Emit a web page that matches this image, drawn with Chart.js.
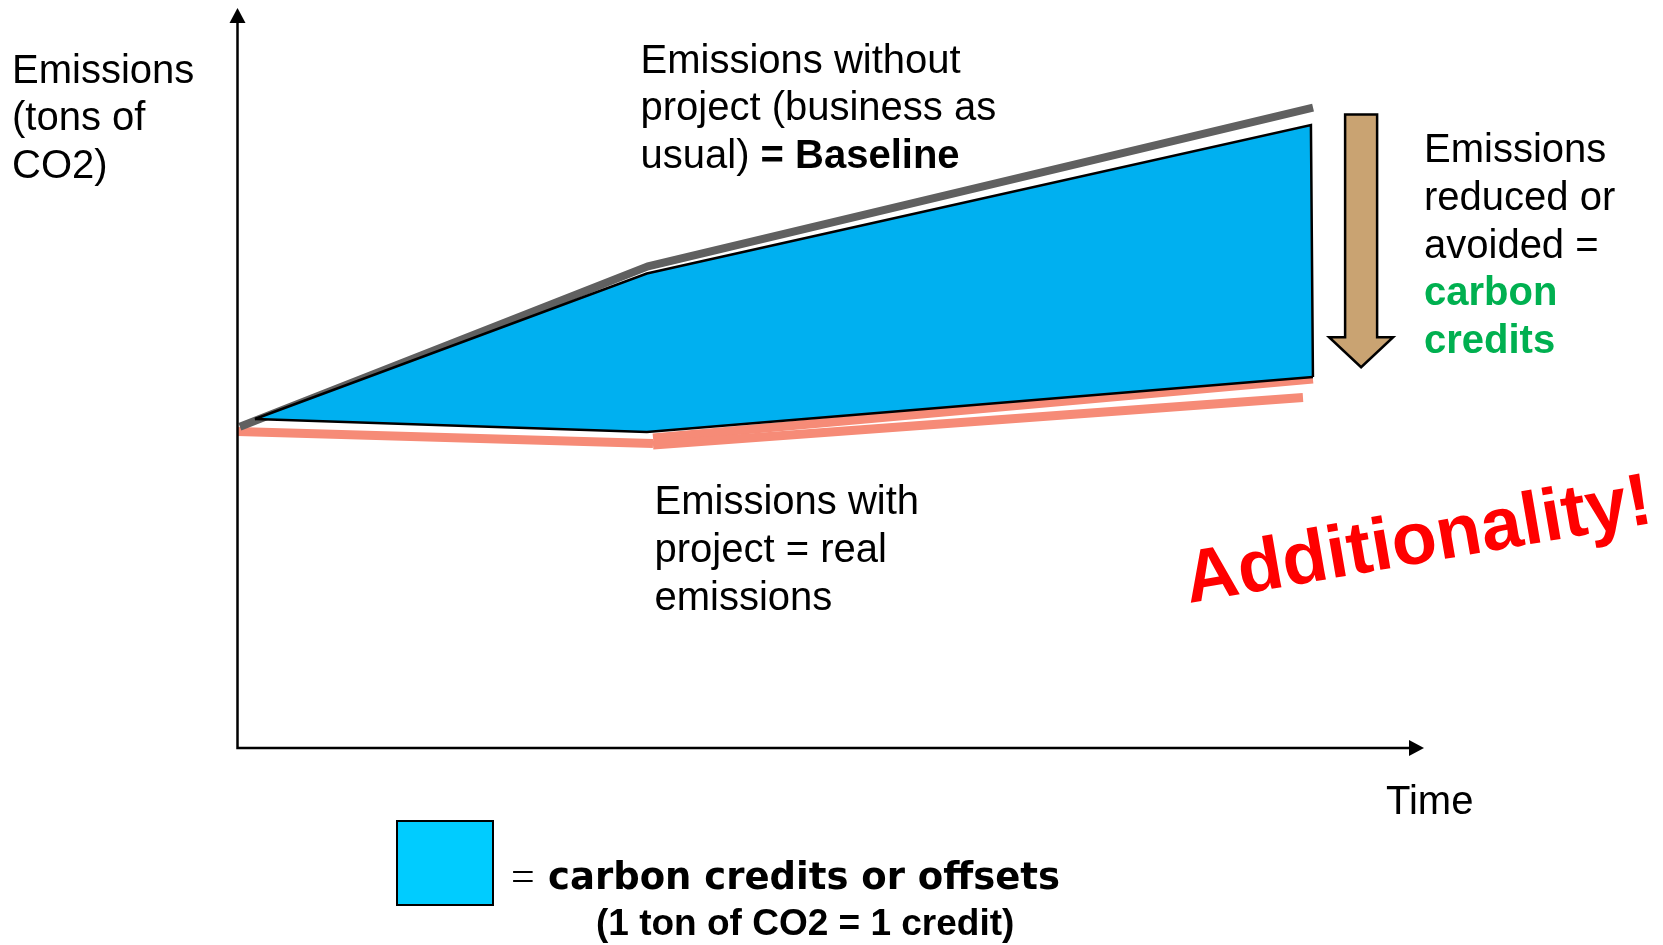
<!DOCTYPE html>
<html>
<head>
<meta charset="utf-8">
<title>Carbon credits - additionality</title>
<script src="https://cdn.jsdelivr.net/npm/chart.js@4.4.1/dist/chart.umd.min.js"></script>
<style>
    html, body { margin: 0; padding: 0; background: #ffffff; }
    #wrap { position: relative; width: 1663px; height: 945px; }
</style>
</head>
<body>
<div id="wrap"><canvas id="creditsChart"></canvas></div>
<script>
// Time runs 0-100 along x, emissions 0-100 up y (no units on the sketch)

// Emissions without project (business as usual) = baseline
const baselineTime = [0.2, 34.6, 90.65];
const baselineEmis = [43.4, 65.1, 86.55];

// Blue area = carbon credits, upper edge (incl. right side) and lower edge
const creditsTopTime = [1.47, 34.5, 90.47, 90.64];
const creditsTopEmis = [44.46, 64.12, 84.19, 50.14];
const creditsBottomTime = [1.47, 34.5, 90.64];
const creditsBottomEmis = [44.46, 42.70, 50.14];

// Emissions with project = real emissions (drawn in pieces on the sketch)
const projectTime = [0, 35.02];
const projectEmis = [42.77, 41.15];
const projectLaterTime = [35.02, 89.8];
const projectLaterEmis = [40.95, 47.36];
const projectUnderTime = [35.02, 90.64];
const projectUnderEmis = [41.89, 49.86];

// "Emissions reduced" arrow, in the same units
const reductionArrow = { time: 94.7, from: 85.6, to: 51.45 };

const FONT = '"Liberation Sans", Arial, Helvetica, sans-serif';

function pts(xs, ys) {
    return xs.map((x, i) => ({ x: x, y: ys[i] }));
}

// Axes with arrow heads, the brown arrow and all the labels
const sketchPlugin = {
    id: 'sketch',
    afterDatasetsDraw(chart) {
        const ctx = chart.ctx;
        const xs = chart.scales.x;
        const ys = chart.scales.y;
        const x0 = xs.getPixelForValue(0);
        const y0 = ys.getPixelForValue(0);
        const xEnd = xs.getPixelForValue(100);
        const yEnd = ys.getPixelForValue(100);

        ctx.save();
        ctx.strokeStyle = '#000000';
        ctx.fillStyle = '#000000';
        ctx.lineWidth = 2.5;
        ctx.beginPath();
        ctx.moveTo(x0, yEnd + 14);
        ctx.lineTo(x0, y0);
        ctx.lineTo(xEnd - 14, y0);
        ctx.stroke();
        // arrow heads
        ctx.beginPath();
        ctx.moveTo(x0, yEnd);
        ctx.lineTo(x0 - 8, yEnd + 15);
        ctx.lineTo(x0 + 8, yEnd + 15);
        ctx.closePath();
        ctx.fill();
        ctx.beginPath();
        ctx.moveTo(xEnd, y0);
        ctx.lineTo(xEnd - 15, y0 - 8);
        ctx.lineTo(xEnd - 15, y0 + 8);
        ctx.closePath();
        ctx.fill();

        // brown reduction arrow
        const ax = xs.getPixelForValue(reductionArrow.time);
        const aTop = ys.getPixelForValue(reductionArrow.from);
        const aTip = ys.getPixelForValue(reductionArrow.to);
        const headLen = 30;
        ctx.beginPath();
        ctx.moveTo(ax - 16, aTop);
        ctx.lineTo(ax + 16, aTop);
        ctx.lineTo(ax + 16, aTip - headLen);
        ctx.lineTo(ax + 32, aTip - headLen);
        ctx.lineTo(ax, aTip);
        ctx.lineTo(ax - 32, aTip - headLen);
        ctx.lineTo(ax - 16, aTip - headLen);
        ctx.closePath();
        ctx.fillStyle = '#C9A372';
        ctx.fill();
        ctx.lineWidth = 2.5;
        ctx.strokeStyle = '#000000';
        ctx.stroke();
        ctx.restore();
    },
    afterDraw(chart) {
        const ctx = chart.ctx;
        ctx.save();
        ctx.textBaseline = 'alphabetic';
        ctx.textAlign = 'left';
        ctx.fillStyle = '#000000';
        ctx.font = '40px ' + FONT;

        // y axis title
        ['Emissions', '(tons of', 'CO2)'].forEach((t, i) => ctx.fillText(t, 12, 82.7 + i * 47.6));

        // baseline note
        ctx.fillText('Emissions without', 640.5, 72.7);
        ctx.fillText('project (business as', 640.5, 120.2);
        const w = ctx.measureText('usual) ').width;
        ctx.fillText('usual) ', 640.5, 167.6);
        ctx.font = 'bold 40px ' + FONT;
        ctx.fillText('= Baseline', 640.5 + w, 167.6);

        // real emissions note
        ctx.font = '40px ' + FONT;
        ['Emissions with', 'project = real', 'emissions'].forEach((t, i) => ctx.fillText(t, 654.5, 514.4 + i * 47.7));

        // reduced note
        ['Emissions', 'reduced or', 'avoided ='].forEach((t, i) => ctx.fillText(t, 1424, 161.7 + i * 47.9));
        ctx.font = 'bold 40px ' + FONT;
        ctx.fillStyle = '#00B050';
        ctx.fillText('carbon', 1424, 305.4);
        ctx.fillText('credits', 1424, 353.3);

        // x axis title
        ctx.fillStyle = '#000000';
        ctx.font = '40px ' + FONT;
        ctx.fillText('Time', 1386, 813.5);

        // legend box
        ctx.fillStyle = '#00CCFF';
        ctx.fillRect(397, 821, 96, 84);
        ctx.lineWidth = 2;
        ctx.strokeStyle = '#000000';
        ctx.strokeRect(397, 821, 96, 84);
        ctx.fillStyle = '#000000';
        ctx.font = '42px "Liberation Serif", "Times New Roman", serif';
        ctx.fillText('=', 511, 890);
        ctx.font = 'bold 37px "DejaVu Sans", Verdana, sans-serif';
        ctx.fillText('carbon credits or offsets', 548, 889);
        ctx.font = 'bold 37px ' + FONT;
        ctx.fillText('(1 ton of CO2 = 1 credit)', 596, 935);

        // stamp
        ctx.translate(1189, 603);
        ctx.rotate(-9.8 * Math.PI / 180);
        ctx.fillStyle = '#FF0000';
        ctx.font = 'bold 74px ' + FONT;
        ctx.fillText('Additionality!', 0, 0);
        ctx.restore();
    }
};

function initChart() {
    const ctx = document.getElementById('creditsChart').getContext('2d');
    new Chart(ctx, {
        type: 'line',
        data: {
            datasets: [
                {
                    label: 'Carbon credits',
                    data: pts(creditsTopTime, creditsTopEmis),
                    borderColor: '#000000',
                    borderWidth: 2.5,
                    backgroundColor: '#00B0F0',
                    fill: 1,
                    order: 1
                },
                {
                    label: 'Carbon credits (lower edge)',
                    data: pts(creditsBottomTime, creditsBottomEmis),
                    borderColor: '#000000',
                    borderWidth: 2.5,
                    fill: false,
                    order: 0
                },
                {
                    label: 'Baseline',
                    data: pts(baselineTime, baselineEmis),
                    borderColor: '#606060',
                    borderWidth: 8,
                    fill: false,
                    order: 3
                },
                {
                    label: 'With project',
                    data: pts(projectTime, projectEmis),
                    borderColor: '#F68B77',
                    borderWidth: 9,
                    fill: false,
                    order: 4
                },
                {
                    label: 'With project (later)',
                    data: pts(projectLaterTime, projectLaterEmis),
                    borderColor: '#F68B77',
                    borderWidth: 9,
                    fill: false,
                    order: 4
                },
                {
                    label: 'With project (under area)',
                    data: pts(projectUnderTime, projectUnderEmis),
                    borderColor: '#F68B77',
                    borderWidth: 9,
                    fill: false,
                    order: 5
                }
            ]
        },
        options: {
            responsive: true,
            maintainAspectRatio: false,
            animation: false,
            events: [],
            layout: {
                padding: { left: 237.5, right: 239, top: 8, bottom: 197 }
            },
            elements: {
                point: { radius: 0 },
                line: { tension: 0, borderCapStyle: 'butt', borderJoinStyle: 'miter' }
            },
            datasets: {
                line: { clip: false }
            },
            plugins: {
                legend: { display: false },
                tooltip: { enabled: false },
                title: { display: false }
            },
            scales: {
                x: { type: 'linear', min: 0, max: 100, display: false },
                y: { type: 'linear', min: 0, max: 100, display: false }
            }
        },
        plugins: [sketchPlugin]
    });
}

document.addEventListener('DOMContentLoaded', initChart);
</script>
</body>
</html>
